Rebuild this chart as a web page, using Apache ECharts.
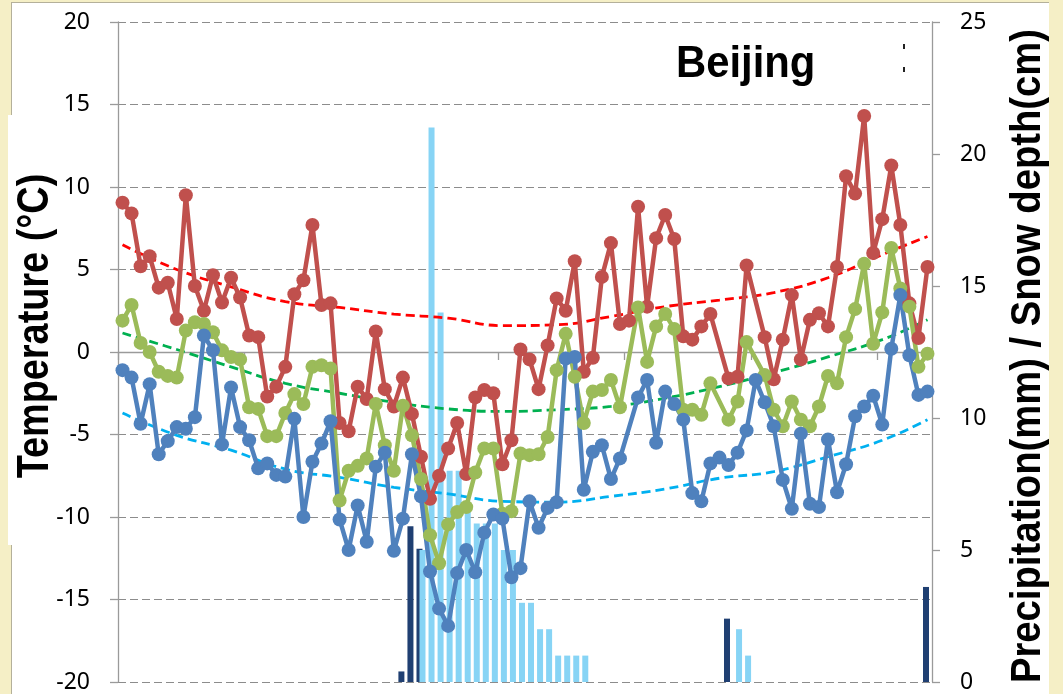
<!DOCTYPE html>
<html>
<head>
<meta charset="utf-8">
<title>Beijing winter temperature, precipitation and snow depth</title>
<script src="https://cdn.jsdelivr.net/npm/echarts@6/dist/echarts.min.js"></script>
<style>
  html, body { margin: 0; padding: 0; }
  body {
    width: 1063px; height: 694px; overflow: hidden; position: relative;
    background: #f5efc6;
  }
  #panel {
    position: absolute; left: 11px; top: 2px; width: 1037px; height: 692px;
    background: #ffffff; border-top: 1px solid #b4b09a; border-left: 1px solid #b4b09a;
  }
  #titlebox {
    position: absolute; left: 8px; top: 115px; width: 60px; height: 430px; background: #ffffff;
  }
  #chart { position: absolute; left: 0; top: 0; width: 1063px; height: 694px; }
</style>
</head>
<body>
<div id="panel"></div>
<div id="titlebox"></div>
<div id="chart"></div>
<script>
// Daily series, 1 Dec - 28 Feb (90 days)
const days = Array.from({ length: 90 }, (_, i) => {
  const d = new Date(2010, 11, 1 + i);
  return (d.getMonth() + 1) + '/' + d.getDate();
});

// Daily maximum temperature (°C)
const tMax = [
  9.05, 8.4, 5.2, 5.8, 3.9, 4.2, 2.0, 9.5, 4.0, 2.5,
  4.65, 3.0, 4.5, 3.3, 1.0, 0.9, -2.7, -2.1, -0.9, 3.5,
  4.35, 7.7, 2.85, 2.95, -4.3, -4.8, -2.1, -2.85, 1.25, -2.25,
  -3.3, -1.55, -3.75, -6.35, -8.9, -7.5, -5.85, -4.3, -7.4, -2.75,
  -2.3, -2.5, -6.8, -5.35, 0.15, -0.45, -2.25, 0.4, 3.25, 2.5,
  5.5, -1.2, -0.35, 4.55, 6.6, 1.7, 1.9, 8.8, 2.75, 6.9,
  8.3, 6.85, 0.95, 0.75, 1.55, 2.3, null, -1.6, -1.5, 5.25,
  null, 0.9, -1.65, 0.75, 3.45, -0.45, 1.95, 2.35, 1.55, 5.15,
  10.65, 9.6, 14.3, 6.0, 8.05, 11.3, 7.7, 2.95, 0.85, 5.15
];

// Daily mean temperature (°C)
const tMean = [
  1.9, 2.85, 0.55, 0.0, -1.2, -1.45, -1.55, 1.3, 1.8, 1.7,
  1.2, 0.1, -0.3, -0.45, -3.35, -3.45, -5.1, -5.1, -3.7, -2.55,
  -3.15, -0.9, -0.8, -1.0, -9.0, -7.2, -6.9, -6.45, -3.15, -5.65,
  -7.2, -3.25, -5.05, -7.7, -11.1, -12.8, -10.45, -9.7, -9.4, -7.3,
  -5.85, -5.85, -9.8, -9.65, -6.15, -6.25, -6.2, -5.15, -1.1, 1.1,
  -1.5, -4.3, -2.4, -2.3, -1.7, -3.35, null, 2.7, -0.6, 1.55,
  2.3, 1.4, -3.5, -3.5, -3.8, -1.9, null, -4.1, -3.0, 0.6,
  null, -1.4, -3.5, -4.5, -3.0, -4.1, -4.5, -3.3, -1.45, -1.9,
  0.9, 2.6, 5.35, 0.5, 2.4, 6.3, 3.85, 2.75, -0.9, -0.1
];

// Daily minimum temperature (°C)
const tMin = [
  -1.1, -1.55, -4.35, -1.95, -6.2, -5.4, -4.55, -4.65, -3.95, 1.0,
  0.1, -5.6, -2.15, -4.55, -5.35, -7.05, -6.75, -7.45, -7.55, -4.05,
  -10.0, -6.65, -5.55, -4.2, -10.15, -12.0, -9.3, -11.5, -6.95, -6.1,
  -12.05, -10.1, -6.2, -8.75, -13.3, -15.55, -16.6, -13.4, -12.0, -13.35,
  -10.95, -9.85, -10.1, -13.65, -13.1, -9.05, -10.65, -9.45, -9.1, -0.4,
  -0.3, -8.35, -6.05, -5.65, -7.7, -6.45, null, -2.75, -1.7, -5.5,
  -2.4, -3.15, -4.1, -8.55, -9.05, -6.75, -6.4, -6.85, -6.1, -4.75,
  -1.7, -3.05, -4.5, -7.75, -9.5, -4.95, -9.2, -9.4, -5.3, -8.5,
  -6.8, -3.9, -3.3, -2.65, -4.4, 0.2, 3.45, -0.2, -2.6, -2.4
];

// Trend curves through the season (°C), sampled on these day indices
const trendIdx  = [0, 6, 12, 18, 24, 30, 36, 42, 48, 54, 60, 66, 72, 78, 84, 89];
const trendMax  = [6.5, 5.0, 3.95, 3.05, 2.7, 2.3, 2.05, 1.6, 1.65, 2.15, 2.75, 3.15, 3.6, 4.5, 5.9, 7.0];
const trendMean = [1.15, 0.15, -0.9, -1.9, -2.5, -3.05, -3.45, -3.6, -3.5, -3.3, -2.8, -2.1, -1.25, -0.3, 0.75, 1.95];
const trendMin  = [-3.7, -5.05, -5.95, -7.1, -7.6, -8.2, -8.6, -9.05, -9.1, -8.75, -8.3, -7.65, -7.25, -6.35, -5.35, -4.1];

// Precipitation (mm) on wet days
const precipDays   = [31, 32, 33, 67, 89];
const precipValues = [0.4, 5.9, 5.05, 2.4, 3.6];

// Snow depth (cm) on days with snow cover
const snowDays   = [33, 34, 35, 36, 37, 38, 39, 40, 41, 42, 43, 44, 45, 46, 47, 48, 49, 50, 51, 68, 69];
const snowValues = [5.0, 21.0, 14.0, 8.0, 8.0, 6.5, 6.0, 6.0, 6.0, 5.0, 5.0, 3.0, 3.0, 2.0, 2.0, 1.0, 1.0, 1.0, 1.0, 2.0, 1.0];

// Left / right axis tick values
const tempTicks = { min: -20, max: 20, step: 5 };
const depthTicks = { min: 0, max: 25, step: 5 };

function spread(idx, vals) {
  const out = days.map(() => null);
  idx.forEach((d, k) => { out[d] = vals[k]; });
  return out;
}
function pairs(idx, vals) {
  return idx.map((d, k) => [d, vals[k]]);
}

const labelFont = { fontFamily: '"Noto Sans", "Open Sans", sans-serif', fontSize: 23, color: '#000' };
const axisGray = '#9a9a9a';

const lineSeries = (name, data, color) => ({
  name, type: 'line', data, yAxisIndex: 0, connectNulls: true,
  symbol: 'circle', symbolSize: 14, showSymbol: true, showAllSymbol: true,
  itemStyle: { color },
  lineStyle: { color, width: 4.5 },
  z: 5
});
const trendSeries = (name, data, color) => ({
  name, type: 'line', data, yAxisIndex: 0, smooth: 0.45,
  showSymbol: false, symbol: 'none',
  lineStyle: { color, width: 2.8, type: [9, 5] },
  z: 4
});

const chart = echarts.init(document.getElementById('chart'), null, { renderer: 'canvas' });
chart.setOption({
  animation: false,
  backgroundColor: 'transparent',
  grid: { left: 118, right: 131, top: 22, bottom: 12, containLabel: false },
  xAxis: {
    type: 'category', data: days, boundaryGap: true,
    axisLine: { lineStyle: { color: axisGray, width: 1.3 } },
    axisTick: { show: true, interval: 13, length: 8, lineStyle: { color: axisGray, width: 1.3 } },
    axisLabel: { show: false },
    splitLine: { show: false }
  },
  yAxis: [
    {
      type: 'value', min: tempTicks.min, max: tempTicks.max, interval: tempTicks.step,
      axisLine: { show: true, lineStyle: { color: axisGray, width: 1.3 } },
      axisTick: { show: true, length: 8, lineStyle: { color: axisGray, width: 1.3 } },
      axisLabel: Object.assign({ margin: 28 }, labelFont),
      splitLine: { show: true, lineStyle: { color: '#8c8c8c', width: 1, type: [8, 4] } }
    },
    {
      type: 'value', min: depthTicks.min, max: depthTicks.max, interval: depthTicks.step,
      position: 'right',
      axisLine: { show: true, lineStyle: { color: axisGray, width: 1.3 } },
      axisTick: { show: true, length: 8, lineStyle: { color: axisGray, width: 1.3 } },
      axisLabel: Object.assign({ margin: 28 }, labelFont),
      splitLine: { show: false }
    }
  ],
  series: [
    {
      name: 'Precipitation', type: 'bar', yAxisIndex: 1, data: spread(precipDays, precipValues),
      barWidth: 6, barGap: '-50%', itemStyle: { color: '#1f3f72' }, z: 2
    },
    {
      name: 'Snow depth', type: 'bar', yAxisIndex: 1, data: spread(snowDays, snowValues),
      barWidth: 6, barGap: '-50%', itemStyle: { color: '#87d4f5' }, z: 2
    },
    trendSeries('Tmax trend', pairs(trendIdx, trendMax), '#ff0000'),
    trendSeries('Tmean trend', pairs(trendIdx, trendMean), '#00b050'),
    trendSeries('Tmin trend', pairs(trendIdx, trendMin), '#00b0f0'),
    lineSeries('Tmax', tMax, '#c0504d'),
    lineSeries('Tmean', tMean, '#9bbb59'),
    lineSeries('Tmin', tMin, '#4f81bd')
  ],
  graphic: [
    {
      type: 'text', x: 36, y: 326, rotation: Math.PI / 2, scaleX: 0.86,
      style: {
        text: 'Temperature (°C)', font: 'bold 44px "Liberation Sans", Arial, sans-serif',
        fill: '#000', textAlign: 'center', textVerticalAlign: 'middle'
      }
    },
    {
      type: 'text', x: 1028, y: 356, rotation: Math.PI / 2, scaleX: 0.91,
      style: {
        text: 'Precipitation(mm) / Snow depth(cm)', font: 'bold 42px "Liberation Sans", Arial, sans-serif',
        fill: '#000', textAlign: 'center', textVerticalAlign: 'middle'
      }
    },
    {
      type: 'text', x: 676, y: 65, scaleX: 0.95,
      style: {
        text: 'Beijing', font: 'bold 44px "Liberation Sans", Arial, sans-serif',
        fill: '#000', textAlign: 'left', textVerticalAlign: 'middle'
      }
    },
    { type: 'rect', shape: { x: 903, y: 44, width: 2, height: 5 }, style: { fill: '#222' } },
    { type: 'rect', shape: { x: 903, y: 67, width: 2, height: 5 }, style: { fill: '#222' } }
  ]
});
</script>
</body>
</html>
